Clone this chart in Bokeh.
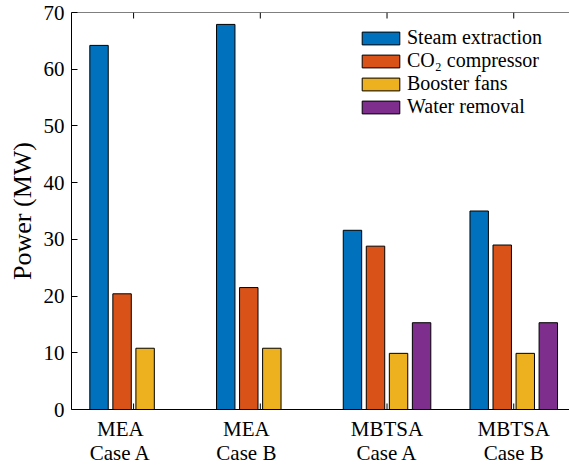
from bokeh.plotting import figure
from bokeh.models import Range1d, FixedTicker, Legend, LegendItem, ColumnDataSource, Span
from bokeh.embed import file_html
from bokeh.resources import INLINE

# ---- data ----
groups = ["MEA\nCase A", "MEA\nCase B", "MBTSA\nCase A", "MBTSA\nCase B"]
series_names = ["Steam extraction", "CO₂ compressor", "Booster fans", "Water removal"]
steam = [64.2, 67.9, 31.6, 35.0]
co2 = [20.4, 21.5, 28.8, 29.0]
booster = [10.8, 10.8, 9.9, 9.9]
water = [0.0, 0.0, 15.3, 15.3]
y_ticks = [0, 10, 20, 30, 40, 50, 60, 70]
y_max = 70

colors = ["#0072BD", "#D95319", "#EDB120", "#7E2F8E"]
FONT = "Liberation Serif"

pos = [1, 2, 3, 4]
n = 4
group_w = min(0.8, n / (n + 1.5))
step = group_w / n
bar_w = 0.8 * step
offsets = [(-1.5 + i) * step for i in range(n)]
label_shift = [-0.105, -0.11, 0.0, 0.0]
label_pos = [p_ + s for p_, s in zip(pos, label_shift)]
tick_len = 1.06  # in data units (~6 px)

p = figure(width=569, height=467, output_backend="svg", toolbar_location=None,
           x_range=Range1d(0.51, 4.44), y_range=Range1d(0, y_max),
           min_border_left=71, min_border_top=12, min_border_right=0, min_border_bottom=57)
p.outline_line_color = None
p.xgrid.visible = False
p.ygrid.visible = False
p.background_fill_color = "white"
p.border_fill_color = "white"

items = []
for vals, name, col, off in zip([steam, co2, booster, water], series_names, colors, offsets):
    xs = [g + off for g, v in zip(pos, vals) if v > 0]
    ys = [v for v in vals if v > 0]
    src = ColumnDataSource(dict(x=xs, top=ys))
    r = p.vbar(x="x", top="top", width=bar_w, bottom=0, source=src,
               fill_color=col, line_color="black", line_width=1)
    items.append(LegendItem(label=name, renderers=[r]))

# inward ticks at the bottom and top at the group centres
p.segment(x0=pos, y0=[0] * 4, x1=pos, y1=[tick_len] * 4, line_color="black", line_width=1)
p.segment(x0=pos, y0=[y_max] * 4, x1=pos, y1=[y_max - tick_len] * 4, line_color="black", line_width=1)
# top box line
p.add_layout(Span(location=y_max, dimension="width", line_color="black", line_width=1))

# bottom axis (labels only)
xa = p.xaxis[0]
xa.ticker = FixedTicker(ticks=label_pos)
xa.major_label_overrides = {lp: g for lp, g in zip(label_pos, groups)}
xa.major_tick_line_color = None
xa.minor_tick_line_color = None
xa.axis_line_color = "black"
xa.axis_line_width = 1
xa.major_label_text_font = FONT
xa.major_label_text_font_size = "21px"
xa.major_label_text_color = "black"
xa.major_label_text_line_height = 1.0
xa.major_label_standoff = 1

# y axis
ya = p.yaxis[0]
ya.ticker = FixedTicker(ticks=y_ticks)
ya.major_tick_in = 6
ya.major_tick_out = 0
ya.minor_tick_line_color = None
ya.axis_line_color = "black"
ya.major_label_text_font = FONT
ya.major_label_text_font_size = "21px"
ya.major_label_text_color = "black"
ya.major_label_standoff = 7
ya.axis_label = "Power (MW)"
ya.axis_label_text_font = FONT
ya.axis_label_text_font_size = "26px"
ya.axis_label_text_font_style = "normal"
ya.axis_label_text_color = "black"
ya.axis_label_standoff = 4

legend = Legend(items=items, location=(286, 291), glyph_width=47, glyph_height=16,
                label_height=16, spacing=0, padding=0, margin=0, label_standoff=3,
                border_line_color=None, background_fill_alpha=0,
                label_text_font=FONT, label_text_font_size="20px", label_text_color="black")
p.add_layout(legend, "center")

open("out.html", "w").write(file_html(p, INLINE))
